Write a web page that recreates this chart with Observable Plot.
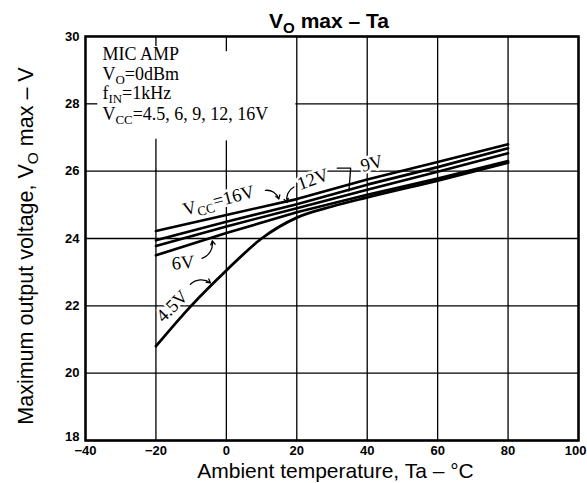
<!DOCTYPE html>
<html>
<head>
<meta charset="utf-8">
<script src="https://cdn.jsdelivr.net/npm/d3@7"></script>
<script src="https://cdn.jsdelivr.net/npm/@observablehq/plot@0.6"></script>
<style>
  html, body { margin: 0; padding: 0; background: white; }
</style>
</head>
<body>
<div id="chart"></div>
<script>
// ---- data ----
const xTicks = [-40, -20, 0, 20, 40, 60, 80, 100];
const yTicks = [18, 20, 22, 24, 26, 28, 30];

const temps = [-20, 0, 20, 40, 60, 80];
const vcc16 = [24.22, 24.70, 25.17, 25.75, 26.27, 26.80];
const vcc12 = [23.95, 24.50, 25.02, 25.60, 26.12, 26.68];
const vcc9  = [23.78, 24.36, 24.90, 25.45, 25.98, 26.53];
const vcc6  = [23.50, 24.16, 24.78, 25.30, 25.78, 26.30];

const temps45 = [-20, -10, 0, 10, 20, 30, 40, 60, 80];
const vcc45   = [20.80, 22.00, 23.05, 24.00, 24.62, 24.95, 25.22, 25.72, 26.25];

const seriesNames = ["16V", "12V", "9V", "6V"];
const seriesValues = [vcc16, vcc12, vcc9, vcc6];

// annotation text (box)
const boxLines = ["MIC AMP", "V_{O}=0dBm", "f_{IN}=1kHz", "V_{CC}=4.5, 6, 9, 12, 16V"];
const boxLineV = [29.48, 28.88, 28.30, 27.70];
const boxT = -35.2;

// curve labels
const labelText = ["V_{CC}=16V", "12V", "9V", "6V", "4.5V"];
const labelT = [-2.2, 24.6, 41.3, -12.3, -15.4];
const labelV = [25.13, 25.76, 26.23, 23.28, 21.99];
const labelAngle = [-15, -20, -15, -5, -45];

// leader arrows (data coordinates)
const arrowsLeft  = [ {t1: 11.1, v1: 25.43, t2: 14.9, v2: 25.17},   // 16V
                      {t1: -10.2, v1: 22.64, t2: -4.5, v2: 22.68} ]; // 4.5V
const arrowsRight = [ {t1: 19.2, v1: 25.53, t2: 17.3, v2: 25.07},   // 12V
                      {t1: -6.9, v1: 23.41, t2: -4.0, v2: 23.93} ];  // 6V
const bracket9 = [ {t: 31.5, v: 26.09}, {t: 35.3, v: 26.09}, {t: 34.8, v: 25.41} ];

// ---- build table ----
const rows = [];
seriesNames.forEach((name, k) => temps.forEach((t, i) => rows.push({vcc: name, t, v: seriesValues[k][i]})));
temps45.forEach((t, i) => rows.push({vcc: "4.5V", t, v: vcc45[i]}));

const labels = labelText.map((s, i) => ({s, t: labelT[i], v: labelV[i], a: labelAngle[i]}));
const box = boxLines.map((s, i) => ({s, v: boxLineV[i]}));

const serif = "Liberation Serif, Times New Roman, serif";
const fmtX = d => d < 0 ? "\u2212" + Math.abs(d) : String(d);
const lastX = xTicks[xTicks.length - 1];
const firstY = yTicks[0];

const chart = Plot.plot({
  width: 587,
  height: 483,
  marginLeft: 85,
  marginRight: 9,
  marginTop: 36,
  marginBottom: 43,
  style: {fontFamily: "Liberation Sans, Arial, sans-serif", background: "white", color: "black"},
  x: {domain: [-40, 100]},
  y: {domain: [18, 30]},
  marks: [
    Plot.ruleX(xTicks, {stroke: "black", strokeWidth: 1.3}),
    Plot.ruleY(yTicks, {stroke: "black", strokeWidth: 1.3}),
    // white annotation box
    Plot.rect([{x1: -40, x2: 20, y1: 26, y2: 30}], {x1: "x1", x2: "x2", y1: "y1", y2: "y2", fill: "white", inset: 1}),
    Plot.ruleX([{x: -20, a: 30, b: 29.7}, {x: 0, a: 30, b: 29.55}, {x: -20, a: 26, b: 26.95}, {x: 0, a: 26, b: 26.9}],
      {x: "x", y1: "a", y2: "b", stroke: "black", strokeWidth: 1.3}),
    Plot.ruleY([{y: 28, a: -40, b: -36.5}], {y: "y", x1: "a", x2: "b", stroke: "black", strokeWidth: 1.3}),
    // curves
    Plot.line(rows.filter(d => d.vcc !== "4.5V"), {x: "t", y: "v", z: "vcc", stroke: "black", strokeWidth: 2.6}),
    Plot.line(rows.filter(d => d.vcc === "4.5V"), {x: "t", y: "v", stroke: "black", strokeWidth: 2.8, curve: "monotone-x"}),
    // curve labels with white halo
    Plot.text(labels, {x: "t", y: "v", text: "s", rotate: "a", fontFamily: serif, fontSize: 18.5,
      stroke: "white", strokeWidth: 5, fill: "black"}),
    Plot.arrow(arrowsLeft, {x1: "t1", y1: "v1", x2: "t2", y2: "v2", bend: 40, headLength: 5, strokeWidth: 1.3, stroke: "black"}),
    Plot.arrow(arrowsRight, {x1: "t1", y1: "v1", x2: "t2", y2: "v2", bend: -40, headLength: 5, strokeWidth: 1.3, stroke: "black"}),
    Plot.line(bracket9, {x: "t", y: "v", stroke: "black", strokeWidth: 1.3}),
    Plot.frame({stroke: "black", strokeWidth: 2.5}),
    // box text
    Plot.text(box, {x: () => boxT, y: "v", text: "s", textAnchor: "start", fontFamily: serif, fontSize: 18,
      style: "letter-spacing:0.4px"}),
    // axes
    Plot.axisX(xTicks.filter(d => d !== lastX), {tickSize: 0, tickPadding: 5, fontSize: 13, fontWeight: "bold", label: null,
      tickFormat: fmtX}),
    Plot.text([lastX], {x: d => d, text: fmtX, frameAnchor: "bottom", lineAnchor: "top", textAnchor: "end",
      dx: 8, dy: 5, fontSize: 13, fontWeight: "bold"}),
    Plot.axisY(yTicks.filter(d => d !== firstY), {tickSize: 0, tickPadding: 6, fontSize: 13, fontWeight: "bold", label: null}),
    Plot.text([firstY], {y: d => d, text: d => String(d), frameAnchor: "left", textAnchor: "end", lineAnchor: "middle",
      dx: -6, dy: -4, fontSize: 13, fontWeight: "bold"}),
    // title & axis titles
    Plot.text(["V_{O} max \u2013 Ta"], {text: d => d, frameAnchor: "top", lineAnchor: "middle",
      dx: -3, dy: -15, fontSize: 21, fontWeight: "bold"}),
    Plot.text(["Maximum output voltage, V_{O} max \u2013 V"], {text: d => d, frameAnchor: "left", lineAnchor: "middle",
      dx: -59, dy: 7.5, rotate: -90, textAnchor: "middle", fontSize: 21.5}),
    Plot.text(["Ambient temperature, Ta \u2013 \u00b0C"], {text: d => d, frameAnchor: "bottom", lineAnchor: "middle",
      dx: 3.5, dy: 31, fontSize: 21})
  ]
});

document.getElementById("chart").appendChild(chart);

// rich text: convert _{...} into subscript tspans
(function richText(svg) {
  const ns = "http://www.w3.org/2000/svg";
  svg.querySelectorAll("text").forEach(t => {
    const s = t.textContent;
    if (!s.includes("_{")) return;
    const fs = parseFloat(getComputedStyle(t).fontSize) || 12;
    const sh = fs * 0.22;
    while (t.firstChild) t.removeChild(t.firstChild);
    const re = /_\{([^}]*)\}/g;
    let last = 0, m, shifted = false;
    const addNormal = str => {
      const ts = document.createElementNS(ns, "tspan");
      ts.textContent = str;
      if (shifted) { ts.setAttribute("dy", -sh); shifted = false; }
      t.appendChild(ts);
    };
    while ((m = re.exec(s))) {
      if (m.index > last) addNormal(s.slice(last, m.index));
      const sub = document.createElementNS(ns, "tspan");
      sub.textContent = m[1];
      sub.setAttribute("font-size", fs * 0.72);
      sub.setAttribute("dy", shifted ? 0 : sh);
      shifted = true;
      t.appendChild(sub);
      last = re.lastIndex;
    }
    if (last < s.length) addNormal(s.slice(last));
  });
})(chart);
</script>
</body>
</html>
